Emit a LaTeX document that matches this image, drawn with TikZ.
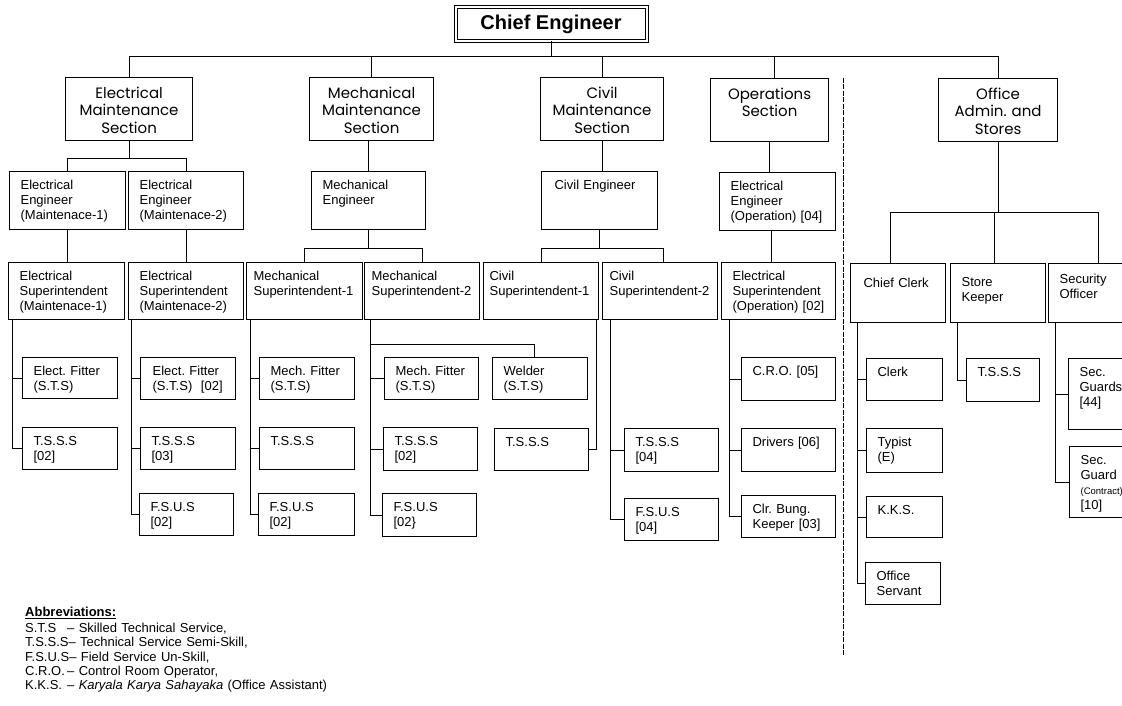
\documentclass[tikz,border=0pt]{standalone}
\usepackage{fontspec}
\setmainfont{Liberation Sans}
\newfontfamily\gothicfont{Poppins}
\usetikzlibrary{positioning}
\frenchspacing
\tikzstyle{head} = [draw, line width=1pt, double, double distance=2pt, minimum width=191pt, minimum height=34pt, inner sep=0pt, font=\bfseries\fontsize{20}{22}\selectfont]
\tikzstyle{link} = [line width=1pt]
\tikzstyle{divider} = [line width=1pt, dash pattern=on 5pt off 1.5pt]
\tikzset{
  section/.style 2 args={draw, line width=1.2pt, anchor=north west, inner xsep=4pt, inner ysep=0pt, text width=#1pt-8pt, text height=21pt, text depth=#2pt-21pt, align=center, font=\gothicfont\fontsize{15}{17.3}\selectfont},
  post/.style 2 args={draw, line width=1.2pt, anchor=north west, inner xsep=11pt, inner ysep=0pt, text width=#1pt-22pt, text height=17.5pt, text depth=#2pt-17.5pt, align=left, font=\fontsize{13}{15}\selectfont},
}

\begin{document}
\begin{tikzpicture}[x=1pt, y=-1pt]

\fill[white] (0,0) rectangle (1122,706);
\useasboundingbox (0,0) rectangle (1122,706);
\clip (0,0) rectangle (1122,706);

% Title
\node[head] (chief) at (551,24) {Chief Engineer};

% Sections
\node[section={127}{63}] (elec_sec) at (65,77) {Electrical\\Maintenance\\Section};
\node[section={124}{63}] (mech_sec) at (309,77) {Mechanical\\Maintenance\\Section};
\node[section={123}{63}] (civil_sec) at (540,77) {Civil\\Maintenance\\Section};
\node[section={118}{63}] (ops_sec) at (710,78) {Operations\\Section};
\node[section={119}{63}] (office_sec) at (938,78) {Office\\Admin. and\\Stores};

\draw[link] (chief.south) -- ++(0,15.5) -| (elec_sec.north);
\draw[link] (chief.south) -- ++(0,15.5) -| (mech_sec.north);
\draw[link] (chief.south) -- ++(0,15.5) -| (civil_sec.north);
\draw[link] (chief.south) -- ++(0,15.5) -| ([xshift=5pt]ops_sec.north);
\draw[link] (chief.south) -- ++(0,15.5) -| (office_sec.north);

% Engineers
\node[post={116}{58}] (elec_eng1) at (9,171) {Electrical\\Engineer\\(Maintenace-1)};
\node[post={115}{58}] (elec_eng2) at (128,171) {Electrical\\Engineer\\(Maintenace-2)};
\node[post={114}{58}] (mech_eng) at (311,171) {Mechanical\\Engineer};
\node[post={116}{58}, inner xsep=13pt, text width=90pt] (civil_eng) at (541,171) {Civil Engineer};
\node[post={116}{58}] (ops_eng) at (719,172) {Electrical\\Engineer\\\mbox{(Operation) [04]}};

\draw[link] (elec_sec.south) -- ++(0,17) -| (elec_eng1.north);
\draw[link] (elec_sec.south) -- ++(0,17) -| (elec_eng2.north);
\draw[link] (mech_eng.north -| mech_sec.south) ++(-3,-31) -- ++(0,31);
\draw[link] (civil_sec.south) -- (civil_sec.south |- civil_eng.north);
\draw[link] (ops_sec.south) -- (ops_sec.south |- ops_eng.north);

% Superintendents
\node[post={116}{57}] (elec_sup1) at (8,262) {Electrical\\Superintendent\\(Maintenace-1)};
\node[post={115}{57}] (elec_sup2) at (128,262) {Electrical\\Superintendent\\(Maintenace-2)};
\node[post={116}{57}, inner xsep=7pt, text width=102pt] (mech_sup1) at (246,262) {Mechanical\\\mbox{Superintendent-1}};
\node[post={115}{57}, inner xsep=7pt, text width=101pt] (mech_sup2) at (364,262) {Mechanical\\\mbox{Superintendent-2}};
\node[post={115}{57}, inner xsep=6pt, text width=103pt] (civil_sup1) at (483,262) {Civil\\\mbox{Superintendent-1}};
\node[post={115}{57}, inner xsep=7pt, text width=101pt] (civil_sup2) at (602,262) {Civil\\\mbox{Superintendent-2}};
\node[post={114}{57}] (ops_sup) at (721,262) {Electrical\\Superintendent\\\mbox{(Operation) [02]}};
\node[post={95}{59}, inner xsep=13pt, text width=69pt, text height=24pt, text depth=35pt] (chief_clerk) at (850,263) {Chief Clerk};
\node[post={95}{59}, text height=23pt, text depth=36pt] (store_keeper) at (950,263) {Store\\Keeper};
\node[post={100}{59}, text height=19.5pt, text depth=39.5pt] (sec_officer) at (1048,263) {Security\\Officer};

\draw[link] (elec_eng1.south) -- (elec_eng1.south |- elec_sup1.north);
\draw[link] (elec_eng2.south) -- (elec_eng2.south |- elec_sup2.north);
\draw[link] (mech_eng.south) -- ++(0,18) -| (mech_sup1.north);
\draw[link] (mech_eng.south) -- ++(0,18) -| (mech_sup2.north);
\draw[link] (civil_eng.south) -- ++(0,18) -| (civil_sup1.north);
\draw[link] (civil_eng.south) -- ++(0,18) -| ([xshift=3pt]civil_sup2.north);
\draw[link] ([xshift=-6pt]ops_eng.south) -- ([xshift=-6pt]ops_eng.south |- ops_sup.north);
\draw[link] (office_sec.south) -- ++(0,70) -| ([xshift=-8pt]chief_clerk.north);
\draw[link] (office_sec.south) -- ++(0,70) -| ([xshift=-4pt]store_keeper.north);
\draw[link] (office_sec.south) -- ++(0,70) -| (sec_officer.north);

% Staff - electrical
\node[post={95}{41}] (elec_fit1) at (22,357) {Elect. Fitter\\(S.T.S)};
\node[post={95}{42}] (elec_tsss1) at (22,427) {T.S.S.S\\{[02]}};
\node[post={95}{42}, inner xsep=12pt, text width=71pt] (elec_fit2) at (140,357) {Elect. Fitter\\\mbox{(S.T.S)\ \ [02]}};
\node[post={95}{42}] (elec_tsss2) at (140,427) {T.S.S.S\\{[03]}};
\node[post={94}{42}] (elec_fsus2) at (139,493) {F.S.U.S\\{[02]}};

\draw[link] ([xshift=4pt]elec_sup1.south west) |- (elec_fit1.west);
\draw[link] ([xshift=4pt]elec_sup1.south west) |- (elec_tsss1.west);
\draw[link] ([xshift=3pt]elec_sup2.south west) |- (elec_fit2.west);
\draw[link] ([xshift=3pt]elec_sup2.south west) |- (elec_tsss2.west);
\draw[link] ([xshift=3pt]elec_sup2.south west) |- (elec_fsus2.west);

% Staff - mechanical
\node[post={95}{42}] (mech_fit1) at (259,357) {Mech. Fitter\\(S.T.S)};
\node[post={95}{42}] (mech_tsss1) at (259,427) {T.S.S.S};
\node[post={96}{42}] (mech_fsus1) at (258,493) {F.S.U.S\\{[02]}};
\node[post={94}{42}] (mech_fit2) at (384,357) {Mech. Fitter\\(S.T.S)};
\node[post={94}{43}] (mech_tsss2) at (383,427) {T.S.S.S\\{[02]}};
\node[post={94}{43}] (mech_fsus2) at (382,493) {F.S.U.S\\{[02\}}};
\node[post={95}{42}] (welder) at (492,357) {Welder\\(S.T.S)};

\draw[link] ([xshift=4pt]mech_sup1.south west) |- (mech_fit1.west);
\draw[link] ([xshift=4pt]mech_sup1.south west) |- (mech_tsss1.west);
\draw[link] ([xshift=4pt]mech_sup1.south west) |- (mech_fsus1.west);
\draw[link] ([xshift=6pt]mech_sup2.south west) |- (mech_fit2.west);
\draw[link] ([xshift=6pt]mech_sup2.south west) |- (mech_tsss2.west);
\draw[link] ([xshift=6pt]mech_sup2.south west) |- (mech_fsus2.west);
\draw[link] ([xshift=6pt]mech_sup2.south west) -- ++(0,24) -| ([xshift=-6pt]welder.north);

% Staff - civil
\node[post={94}{42}] (civil_tsss1) at (494,428) {T.S.S.S};
\node[post={94}{43}] (civil_tsss2) at (624,428) {T.S.S.S\\{[04]}};
\node[post={94}{42}] (civil_fsus2) at (624,498) {F.S.U.S\\{[04]}};

\draw[link] ([xshift=-3pt]civil_sup1.south east) |- (civil_tsss1.east);
\draw[link] ([xshift=8pt]civil_sup2.south west) |- (civil_tsss2.west);
\draw[link] ([xshift=8pt]civil_sup2.south west) |- (civil_fsus2.west);

% Staff - operations
\node[post={94}{43}] (ops_cro) at (741,357) {C.R.O. [05]};
\node[post={94}{43}] (ops_drivers) at (741,428) {Drivers [06]};
\node[post={94}{42}] (ops_keeper) at (741,495) {Clr. Bung.\\Keeper [03]};

\draw[link] ([xshift=8pt]ops_sup.south west) |- (ops_cro.west);
\draw[link] ([xshift=8pt]ops_sup.south west) |- (ops_drivers.west);
\draw[link] ([xshift=8pt]ops_sup.south west) |- (ops_keeper.west);

% Divider
\draw[divider] (843,78) -- (843,655);

% Staff - office
\node[post={76}{42}] (clerk) at (866,358) {Clerk};
\node[post={76}{44}] (typist) at (866,428) {Typist\\(E)};
\node[post={76}{41}] (kks) at (866,496) {K.K.S.};
\node[post={75}{42}] (servant) at (865,562) {Office\\Servant};
\node[post={73}{43}] (store_tsss) at (966,358) {T.S.S.S};
\node[post={95}{71}] (guards) at (1068,358) {Sec.\\Guards\\{[44]}};
\node[post={95}{71}] (guard_contract) at (1069,446) {Sec.\\Guard\\{\fontsize{9.5}{15}\selectfont(Contract)}\\{[10]}};

\draw[link] ([xshift=7pt]chief_clerk.south west) |- (clerk.west);
\draw[link] ([xshift=7pt]chief_clerk.south west) |- (typist.west);
\draw[link] ([xshift=7pt]chief_clerk.south west) |- (kks.west);
\draw[link] ([xshift=7pt]chief_clerk.south west) |- (servant.west);
\draw[link] ([xshift=7pt]store_keeper.south west) |- (store_tsss.west);
\draw[link] ([xshift=7pt]sec_officer.south west) |- (guards.west);
\draw[link] ([xshift=7pt]sec_officer.south west) |- (guard_contract.west);

% Abbreviations
\node[anchor=north west, inner sep=0pt, text width=420pt, text height=10pt, align=left, font=\fontsize{13}{14.3}\selectfont] (abbrev) at (25,606.5) {%
\textbf{\underline{Abbreviations:}}\\[1.5pt]
\makebox[42pt][l]{S.T.S}-- Skilled Technical Service,\\
T.S.S.S-- Technical Service Semi-Skill,\\
F.S.U.S-- Field Service Un-Skill,\\
\makebox[42pt][l]{C.R.O.}-- Control Room Operator,\\
\makebox[42pt][l]{K.K.S.}-- \textit{Karyala Karya Sahayaka} (Office Assistant)};

\end{tikzpicture}
\end{document}
